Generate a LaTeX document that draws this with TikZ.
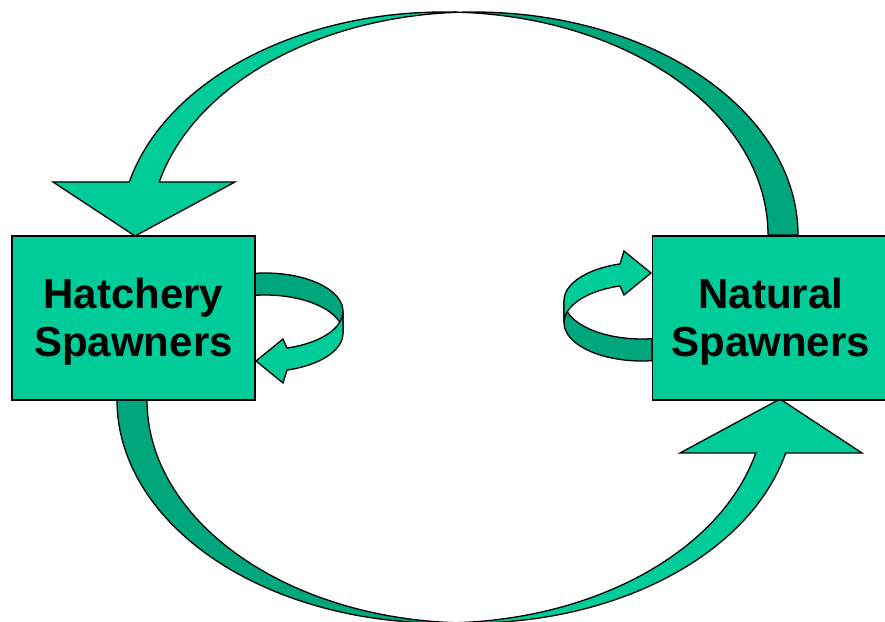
\documentclass[tikz,border=0pt]{standalone}
\usepackage{fontspec}
\setsansfont{Liberation Sans}
\usepackage{xcolor}
\usepackage{tikz}
\usetikzlibrary{positioning}
\definecolor{bandfront}{RGB}{0,204,153}
\definecolor{bandback}{RGB}{0,166,124}
\tikzset{
spawner/.style={
draw,
fill=bandfront,
line width=1.3pt,
minimum width=243pt,
minimum height=164pt,
inner sep=0pt,
align=center,
text height=88pt,
text depth=10pt,
font=\sffamily\bfseries\fontsize{42}{48}\selectfont
},
frontband/.style={
draw,
fill=bandfront,
line width=1.3pt
},
backband/.style={
draw,
fill=bandback,
line width=1.3pt
},
bigarc/.pic={
\path[backband](1.48,305.26) arc[start angle=87.35,end angle=0,x radius=324,y radius=223]
 --(340.5,82.5) arc[start angle=0,end angle=92.65,x radius=324,y radius=223] --cycle;
\path[frontband](-328.21,135.5) arc[start angle=166.25,end angle=87.35,x radius=324,y radius=223]
 arc[start angle=92.65,end angle=166.25,x radius=324,y radius=223]
 --(-222.5,135.5)--(-322.5,81.5)--(-404.5,135.5)--cycle;
},
selfloop/.pic={
\path[backband](-198.51,43.68) arc[start angle=97.37,end angle=0,x radius=78,y radius=38.3]
 --(-110.5,-16.3) arc[start angle=0,end angle=97.37,x radius=78,y radius=38.3] --cycle;
\path[frontband](-110.5,5.7) arc[start angle=0,end angle=-73.6,x radius=78,y radius=38.3]
 --(-170.5,-22)--(-197.5,-44)--(-170.5,-66)--(-166.48,-53.04)
 arc[start angle=-73.6,end angle=0,x radius=78,y radius=38.3] --cycle;
}
}

\begin{document}
\begin{tikzpicture}[x=1pt,y=1pt]
\useasboundingbox(0,0) rectangle (885,621);
\pic at (457.5,303.5) {bigarc};
\pic[rotate=180] at (457.5,303.5) {bigarc};
\pic at (453.5,304) {selfloop};
\pic[rotate=180] at (453.5,304) {selfloop};

\node[spawner](hatch) at (133.5,303) {Hatchery\\Spawners};
\node[spawner,minimum width=237pt,right=396pt of hatch](natural) {Natural\\Spawners};
\end{tikzpicture}
\end{document}
